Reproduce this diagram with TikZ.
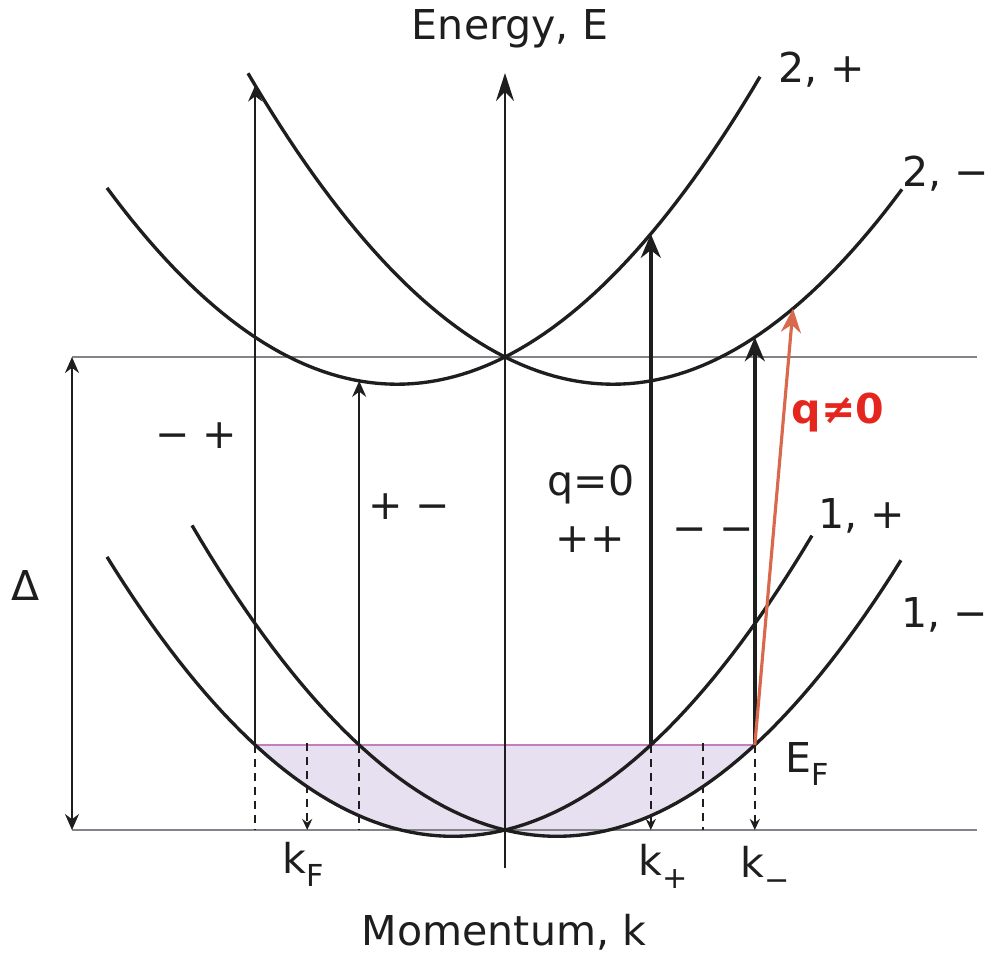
\documentclass[tikz,border=0pt]{standalone}
\usepackage{fontspec}
\setmainfont{DejaVu Sans}
\usetikzlibrary{arrows.meta}
\definecolor{ink}{HTML}{1E1E1E}
\definecolor{rule}{HTML}{85838A}
\definecolor{fermi}{HTML}{C67DBA}
\definecolor{sea}{HTML}{E7E0F0}
\definecolor{qarrow}{HTML}{D8694C}
\definecolor{qtext}{HTML}{E4261F}
\newcommand\lowsub[1]{\raisebox{-3.8pt}{\fontsize{8.6}{10}\selectfont #1}}

\begin{document}
\begin{tikzpicture}[
  font=\fontsize{11.7}{14}\selectfont,
  declare function={
    eone(\k,\s)=0.2334*\k*\k+\s*0.2427*\k;
    etwo(\k,\s)=4.73+0.2334*\k*\k+\s*0.5041*\k;
  },
  band/.style={ink, line width=0.95pt},
  hline/.style={rule, line width=0.65pt},
  axisline/.style={-{Stealth[length=2.8mm, width=1.8mm]}, ink, line width=0.55pt},
  liftthin/.style={-{Stealth[length=1.6mm, width=1.4mm]}, ink, line width=0.55pt},
  liftbold/.style={-{Stealth[length=2.4mm, width=2mm]}, ink, line width=1pt},
  dropline/.style={ink, line width=0.55pt, dash pattern=on 0.8mm off 0.6mm},
  droparr/.style={dropline, -{Stealth[length=1.1mm, width=1mm]}},
  gaparr/.style={{Stealth[length=1.6mm, width=1.4mm]}-{Stealth[length=1.6mm, width=1.4mm]}, ink, line width=0.55pt},
  lbl/.style={inner sep=0pt, text=ink}
]
  \useasboundingbox (-5.05,-1.25) rectangle (4.83,8.30);

  % reference points
  \coordinate (o) at (0,0);
  \coordinate (dTop) at (-4.33,4.73);
  \coordinate (dBot) at (-4.33,0);
  \coordinate (rEnd) at (4.72,0);
  \coordinate (kmL) at (-2.498,0.85);
  \coordinate (kfL) at (-1.978,0.87);
  \coordinate (kpL) at (-1.458,0.85);
  \coordinate (kp) at (1.458,0.85);
  \coordinate (kfR) at (1.978,0.87);
  \coordinate (km) at (2.498,0.85);
  \coordinate (tA) at (-2.498,{etwo(-2.498,-1)});
  \coordinate (tB) at (-1.458,{etwo(-1.458,1)});
  \coordinate (tC) at (1.458,{etwo(1.458,1)});
  \coordinate (tD) at (2.498,{etwo(2.498,-1)});
  \coordinate (tQ) at (2.88,{etwo(2.88,-1)});
  \coordinate (axBot) at (0,-0.38);
  \coordinate (axTop) at (0,7.57);

  % occupied states
  \fill[sea] plot[domain=-2.498:1.458, samples=60] (\x,{eone(\x,1)}) -- cycle;
  \fill[sea] plot[domain=-1.458:2.498, samples=60] (\x,{eone(\x,-1)}) -- cycle;

  \draw[hline] (dTop) -- (dTop -| rEnd);
  \draw[hline] (dBot) -- (rEnd);
  \draw[fermi, line width=0.6pt] (kmL) -- (km);
  \draw[gaparr] (dTop) -- (dBot);
  \draw[axisline] (axBot) -- (axTop);

  % projections on the k axis
  \draw[dropline] (kmL) -- (kmL |- o);
  \draw[droparr] (kfL) -- (kfL |- o);
  \draw[dropline] (kpL) -- (kpL |- o);
  \draw[droparr] (kp) -- (kp |- o);
  \draw[dropline] (kfR) -- (kfR |- o);
  \draw[droparr] (km) -- (km |- o);

  % bands
  \draw[band] plot[domain=-3.98:3.07, samples=80] (\x,{eone(\x,1)});
  \draw[band] plot[domain=-3.13:3.96, samples=80] (\x,{eone(\x,-1)});
  \draw[band] plot[domain=-3.98:2.55, samples=80] (\x,{etwo(\x,1)});
  \draw[band] plot[domain=-2.57:3.97, samples=80] (\x,{etwo(\x,-1)});

  % transitions
  \draw[liftthin] (kmL) -- (tA);
  \draw[liftthin] (kpL) -- (tB);
  \draw[liftbold] (kp) -- (tC);
  \draw[liftbold] (km) -- (tD);
  \draw[-{Stealth[length=2.4mm, width=2mm]}, qarrow, line width=0.9pt] (km) -- (tQ);

  % labels
  \node[lbl, anchor=base] (ylab) at (0.05,7.90) {Energy, E};
  \node[lbl, anchor=base] (xlab) at (-0.01,-1.15) {Momentum, k};
  \node[lbl, anchor=base] (b2p) at (3.17,7.47) {2, +};
  \node[lbl, anchor=base] (b2m) at (4.41,6.43) {2, −};
  \node[lbl, anchor=base] (b1p) at (3.57,3.02) {1, +};
  \node[lbl, anchor=base] (b1m) at (4.40,2.03) {1, −};
  \node[lbl] (mp) at (-3.09,3.94) {− +};
  \node[lbl] (pm) at (-0.96,3.23) {+ −};
  \node[lbl, anchor=base] (qz) at (0.86,3.35) {q=0};
  \node[lbl] (pp) at (0.85,2.90) {++};
  \node[lbl] (mm) at (2.08,3.00) {\vphantom{+}− −};
  \node[lbl, anchor=base, text=qtext, font=\fontsize{11.7}{14}\selectfont\bfseries] (qn) at (3.33,4.07) {q≠0};
  \node[lbl, anchor=base] (gap) at (-4.79,2.30) {Δ};
  \node[lbl, anchor=base west] (ef) at (2.80,0.58) {E\lowsub{F}};
  \node[lbl, anchor=base] (kf) at (-2.02,-0.43) {k\lowsub{F}};
  \node[lbl, anchor=base] (kpl) at (1.58,-0.45) {k\lowsub{+}};
  \node[lbl, anchor=base] (kml) at (2.60,-0.47) {k\lowsub{−}};
\end{tikzpicture}
\end{document}
